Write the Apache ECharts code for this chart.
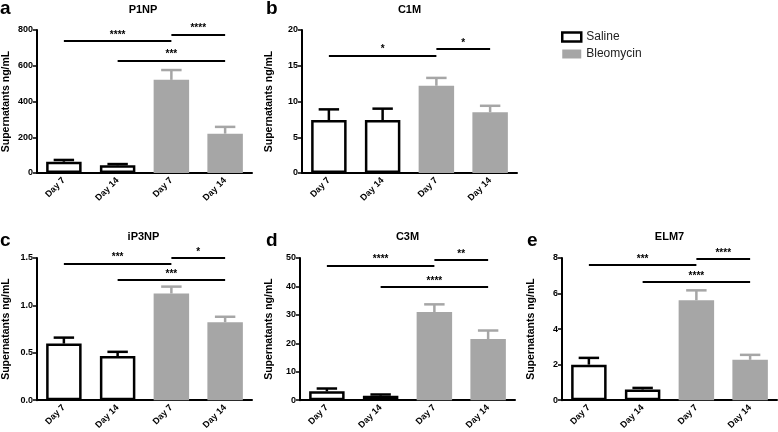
<!DOCTYPE html>
<html>
<head>
<meta charset="utf-8">
<script src="https://cdn.jsdelivr.net/npm/echarts@6/dist/echarts.min.js"></script>
<style>
  html, body { margin: 0; padding: 0; background: #fff; }
  #chart { width: 778px; height: 432px; }
</style>
</head>
<body>
<div id="chart"></div>
<script>
// 数据
const days = ['Day 7', 'Day 14', 'Day 7', 'Day 14']
const groupOf = ['Saline', 'Saline', 'Bleomycin', 'Bleomycin']

const panelNames = ['P1NP', 'C1M', 'iP3NP', 'C3M', 'ELM7']
const panelLetters = ['a', 'b', 'c', 'd', 'e']

// 均值（四根柱子）
const meanP1NP = [63, 43, 521, 220]
const meanC1M = [7.4, 7.4, 12.2, 8.5]
const meanIP3NP = [0.597, 0.465, 1.125, 0.823]
const meanC3M = [3.1, 1.6, 31, 21.5]
const meanELM7 = [2.0, 0.6, 5.62, 2.27]

// 误差线上端
const upperP1NP = [73, 50, 576, 258]
const upperC1M = [8.9, 9.0, 13.3, 9.4]
const upperIP3NP = [0.66, 0.51, 1.198, 0.88]
const upperC3M = [4.1, 2.0, 33.7, 24.5]
const upperELM7 = [2.38, 0.69, 6.18, 2.55]

// y 轴范围
const yMax = [800, 20, 1.5, 50, 8]
const yStep = [200, 5, 0.5, 10, 2]

// 显著性标记 [起点类目, 终点类目, 高度, 文本]
const sigP1NP = [[0, 2, 738, '****'], [2, 3, 774, '****'], [1, 3, 628, '***']]
const sigC1M = [[0, 2, 16.4, '*'], [2, 3, 17.35, '*']]
const sigIP3NP = [[0, 2, 1.444, '***'], [2, 3, 1.5, '*'], [1, 3, 1.27, '***']]
const sigC3M = [[0, 2, 47.4, '****'], [2, 3, 49.3, '**'], [1, 3, 39.8, '****']]
const sigELM7 = [[0, 2, 7.6, '***'], [2, 3, 7.94, '****'], [1, 3, 6.64, '****']]

const means = [meanP1NP, meanC1M, meanIP3NP, meanC3M, meanELM7]
const uppers = [upperP1NP, upperC1M, upperIP3NP, upperC3M, upperELM7]
const sigs = [sigP1NP, sigC1M, sigIP3NP, sigC3M, sigELM7]

const FONT = '"Liberation Sans", Arial, Helvetica, sans-serif'
const GREY = '#a6a6a6'

// 每个小图的位置
const grids = [
  { left: 34, top: 30, width: 218, height: 143 },
  { left: 302, top: 30, width: 215, height: 143 },
  { left: 35, top: 258, width: 217, height: 144 },
  { left: 300, top: 258, width: 215, height: 144 },
  { left: 562, top: 258, width: 215, height: 144 }
]

const chart = echarts.init(document.getElementById('chart'))

const xAxes = []
const yAxes = []
const series = []
const graphics = []

grids.forEach((g, i) => {
  xAxes.push({
    type: 'category',
    gridIndex: i,
    data: days,
    axisLine: { lineStyle: { color: '#000', width: 2 } },
    axisTick: { alignWithLabel: true, length: 4, lineStyle: { color: '#000', width: 1.5 } },
    axisLabel: {
      rotate: 45, margin: 6, color: '#000',
      fontSize: 9, fontWeight: 'bold', fontFamily: FONT
    }
  })
  yAxes.push({
    type: 'value',
    gridIndex: i,
    min: 0,
    max: yMax[i],
    interval: yStep[i],
    name: 'Supernatants ng/mL',
    nameLocation: 'middle',
    nameGap: i === 1 ? 27 : 25,
    nameTextStyle: { color: '#000', fontSize: 10.5, fontWeight: 'bold', fontFamily: FONT },
    axisLine: { show: true, lineStyle: { color: '#000', width: 2 } },
    axisTick: { show: true, length: 4, lineStyle: { color: '#000', width: 1.5 } },
    splitLine: { show: false },
    axisLabel: {
      color: '#000', fontSize: 9, fontWeight: 'bold', fontFamily: FONT, margin: 4,
      formatter: v => (i === 2 ? v.toFixed(1) : String(v))
    }
  })

  const m = means[i]
  series.push({
    name: 'Saline',
    type: 'bar',
    xAxisIndex: i, yAxisIndex: i,
    barWidth: '66%',
    barGap: '-100%',
    data: m.map((v, k) => (groupOf[k] === 'Saline' ? v : '-')),
    itemStyle: { color: '#fff', borderColor: '#000', borderWidth: 2.5 },
    markLine: {
      silent: true,
      symbol: 'none',
      animation: false,
      lineStyle: { color: '#000', width: 2, type: 'solid' },
      label: {
        position: 'middle', distance: 1, color: '#000',
        fontSize: 10, fontWeight: 'bold', fontFamily: FONT
      },
      data: sigs[i].map(s => [
        { coord: [s[0], s[2]], label: { formatter: s[3] } },
        { coord: [s[1], s[2]] }
      ])
    }
  })
  series.push({
    name: 'Bleomycin',
    type: 'bar',
    xAxisIndex: i, yAxisIndex: i,
    barWidth: '66%',
    barGap: '-100%',
    data: m.map((v, k) => (groupOf[k] === 'Bleomycin' ? v : '-')),
    itemStyle: { color: GREY }
  })
  // 误差线
  series.push({
    type: 'custom',
    xAxisIndex: i, yAxisIndex: i,
    z: 3,
    data: m.map((v, k) => [k, v, uppers[i][k]]),
    renderItem: (params, api) => {
      const k = api.value(0)
      const p0 = api.coord([k, api.value(1)])
      const p1 = api.coord([k, api.value(2)])
      const w = api.size([1, 0])[0] * 0.19
      const c = groupOf[k] === 'Saline' ? '#000' : GREY
      return {
        type: 'group',
        children: [
          { type: 'line', shape: { x1: p0[0], y1: p0[1], x2: p1[0], y2: p1[1] }, style: { stroke: c, lineWidth: 2.5 } },
          { type: 'line', shape: { x1: p1[0] - w, y1: p1[1], x2: p1[0] + w, y2: p1[1] }, style: { stroke: c, lineWidth: 2.5 } }
        ]
      }
    }
  })

  // 标题和字母
  const rowY = g.top < 100 ? 10 : 237
  graphics.push({
    type: 'text', x: g.left + g.width / 2, y: rowY,
    style: {
      text: panelNames[i], fill: '#000', fontSize: 11, fontWeight: 'bold',
      fontFamily: FONT, align: 'center', verticalAlign: 'middle'
    }
  })
  graphics.push({
    type: 'text', x: [0, 266, 0, 266, 527][i], y: g.top < 100 ? 9 : 241,
    style: {
      text: panelLetters[i], fill: '#000', fontSize: 19, fontWeight: 'bold',
      fontFamily: FONT, align: 'left', verticalAlign: 'middle'
    }
  })
})

const option = {
  animation: false,
  backgroundColor: '#fff',
  grid: grids,
  xAxis: xAxes,
  yAxis: yAxes,
  series: series,
  graphic: graphics,
  legend: {
    orient: 'vertical',
    left: 556,
    top: 26,
    itemWidth: 19,
    itemHeight: 9,
    itemGap: 5,
    icon: 'rect',
    textStyle: { color: '#222', fontSize: 12, fontFamily: FONT },
    data: [
      { name: 'Saline', itemStyle: { color: '#fff', borderColor: '#000', borderWidth: 2.5 } },
      { name: 'Bleomycin', itemStyle: { color: GREY } }
    ]
  }
}

chart.setOption(option)
</script>
</body>
</html>
